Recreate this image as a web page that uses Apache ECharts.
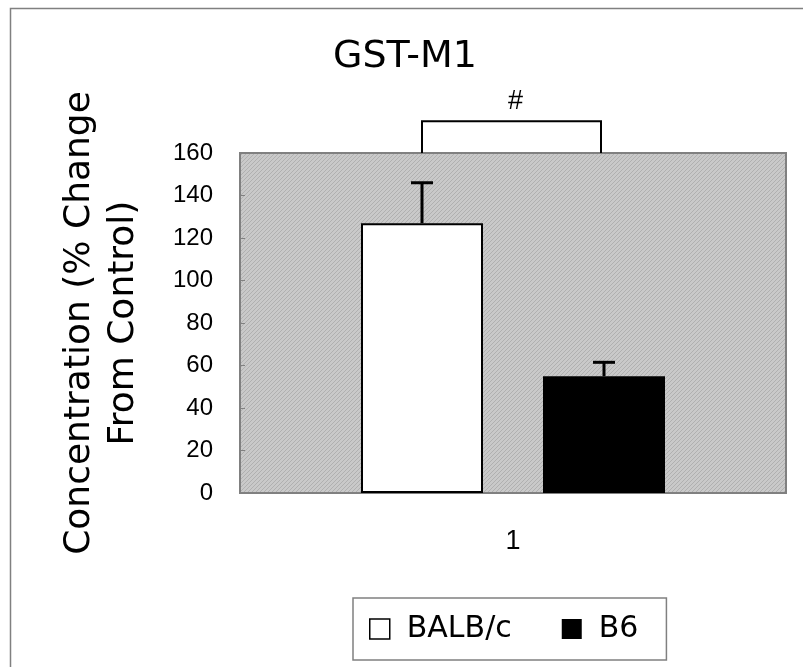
<!DOCTYPE html>
<html>
<head>
<meta charset="utf-8">
<script src="https://cdn.jsdelivr.net/npm/echarts@6/dist/echarts.min.js"></script>
<style>html,body{margin:0;padding:0;background:#fff}#c{width:803px;height:667px}</style>
</head>
<body>
<div id="c"></div>
<script>
// ---- data ----
const chartTitle = 'GST-M1';
const categories = ['1'];
const seriesNames = ['BALB/c', 'B6'];
const balbValues = [127];
const b6Values = [55];
const balbErrors = [19];
const b6Errors = [6.5];
const yMin = 0, yMax = 160, yInterval = 20;
const bracketLevel = 175;
const bracketLabel = '#';
const yAxisName = 'Concentration (% Change\nFrom Control)';

// ---- layout constants ----
const BAR_W = 122, BAR_GAP_PX = 60;
const OFF = (BAR_W + BAR_GAP_PX) / 2;

function makePattern() {
  const c = document.createElement('canvas');
  c.width = 4; c.height = 4;
  const g = c.getContext('2d');
  g.fillStyle = '#c9c9c9'; g.fillRect(0, 0, 4, 4);
  g.fillStyle = '#b0b0b0';
  for (let i = 0; i < 4; i++) g.fillRect(3 - i, i, 1, 1);
  return c;
}

const chart = echarts.init(document.getElementById('c'), null, {renderer: 'canvas'});

function errRender(sign) {
  return function (params, api) {
    const x = api.value(0), v = api.value(1), e = api.value(2);
    const top = api.coord([x, v + e]);
    const base = api.coord([x, v]);
    const cx = top[0] + sign * OFF;
    const st = {stroke: '#000', lineWidth: 3};
    return {type: 'group', children: [
      {type: 'line', shape: {x1: cx, y1: base[1], x2: cx, y2: top[1]}, style: st},
      {type: 'line', shape: {x1: cx - 11, y1: top[1], x2: cx + 11, y2: top[1]}, style: st}
    ]};
  };
}

chart.setOption({
  animation: false,
  textStyle: {fontFamily: 'Liberation Sans, Arial, sans-serif'},
  title: {
    text: chartTitle, left: 333, top: 38, padding: 0,
    textStyle: {fontFamily: 'DejaVu Sans', fontSize: 38, fontWeight: 'normal', color: '#000'}
  },
  grid: {
    left: 240, right: 17, top: 153, bottom: 174,
    show: true,
    backgroundColor: {image: makePattern(), repeat: 'repeat'},
    borderColor: '#808080', borderWidth: 2
  },
  legend: {
    left: 353, top: 598,
    padding: [16, 28, 16, 16],
    itemWidth: 20, itemHeight: 20, itemGap: 50,
    borderColor: '#808080', borderWidth: 1.5,
    data: [
      {name: seriesNames[0], icon: 'rect', itemStyle: {color: '#fff', borderColor: '#000', borderWidth: 1.5}},
      {name: seriesNames[1], icon: 'rect', itemStyle: {color: '#000', borderWidth: 0}}
    ],
    textStyle: {fontFamily: 'DejaVu Sans', fontSize: 30, color: '#000', padding: [0, 0, 0, 12]}
  },
  xAxis: {
    type: 'category', data: categories,
    axisLine: {show: true, lineStyle: {color: '#808080', width: 2}},
    axisTick: {show: false},
    axisLabel: {fontSize: 27, color: '#000', margin: 35}
  },
  yAxis: {
    type: 'value', min: yMin, max: yMax, interval: yInterval,
    name: yAxisName, nameLocation: 'middle', nameGap: 94, nameRotate: 90,
    nameTextStyle: {fontFamily: 'DejaVu Sans', fontSize: 36, color: '#000', lineHeight: 44},
    axisLine: {show: true, lineStyle: {color: '#808080', width: 2}},
    axisTick: {show: true, inside: true, length: 5, lineStyle: {color: '#808080'}},
    splitLine: {show: false},
    axisLabel: {fontSize: 24, color: '#000', margin: 27}
  },
  series: [
    {name: seriesNames[0], type: 'bar', data: balbValues, barWidth: BAR_W, barGap: (BAR_GAP_PX / BAR_W * 100) + '%',
     itemStyle: {color: '#fff', borderColor: '#000', borderWidth: 2}},
    {name: seriesNames[1], type: 'bar', data: b6Values, barWidth: BAR_W,
     itemStyle: {color: '#000', borderColor: '#000', borderWidth: 0}},
    {type: 'custom', name: 'errA', data: balbValues.map((v, i) => [i, v, balbErrors[i]]),
     renderItem: errRender(-1), z: 5, clip: false},
    {type: 'custom', name: 'errB', data: b6Values.map((v, i) => [i, v, b6Errors[i]]),
     renderItem: errRender(1), z: 5, clip: false},
    {type: 'custom', name: 'bracket', data: [[0, bracketLevel, yMax]], clip: false, z: 5,
     renderItem: function (params, api) {
       const hi = api.coord([api.value(0), api.value(1)]);
       const lo = api.coord([api.value(0), api.value(2)]);
       const xl = hi[0] - OFF, xr = hi[0] + OFF - 3;
       return {type: 'group', children: [
         {type: 'polyline', shape: {points: [[xl, lo[1]], [xl, hi[1]], [xr, hi[1]], [xr, lo[1]]]},
          style: {stroke: '#000', lineWidth: 2, fill: null}},
         {type: 'text', style: {text: bracketLabel, x: (xl + xr) / 2 + 4, y: hi[1] - 6,
          align: 'center', verticalAlign: 'bottom', fontSize: 27, fontFamily: 'Liberation Sans', fill: '#000'}}
       ]};
     }}
  ],
  graphic: [
    {type: 'rect', left: 8, top: 6, z: -10, silent: true,
     shape: {width: 900, height: 800}, style: {fill: null, stroke: '#808080', lineWidth: 1.5}}
  ]
});
</script>
</body>
</html>
